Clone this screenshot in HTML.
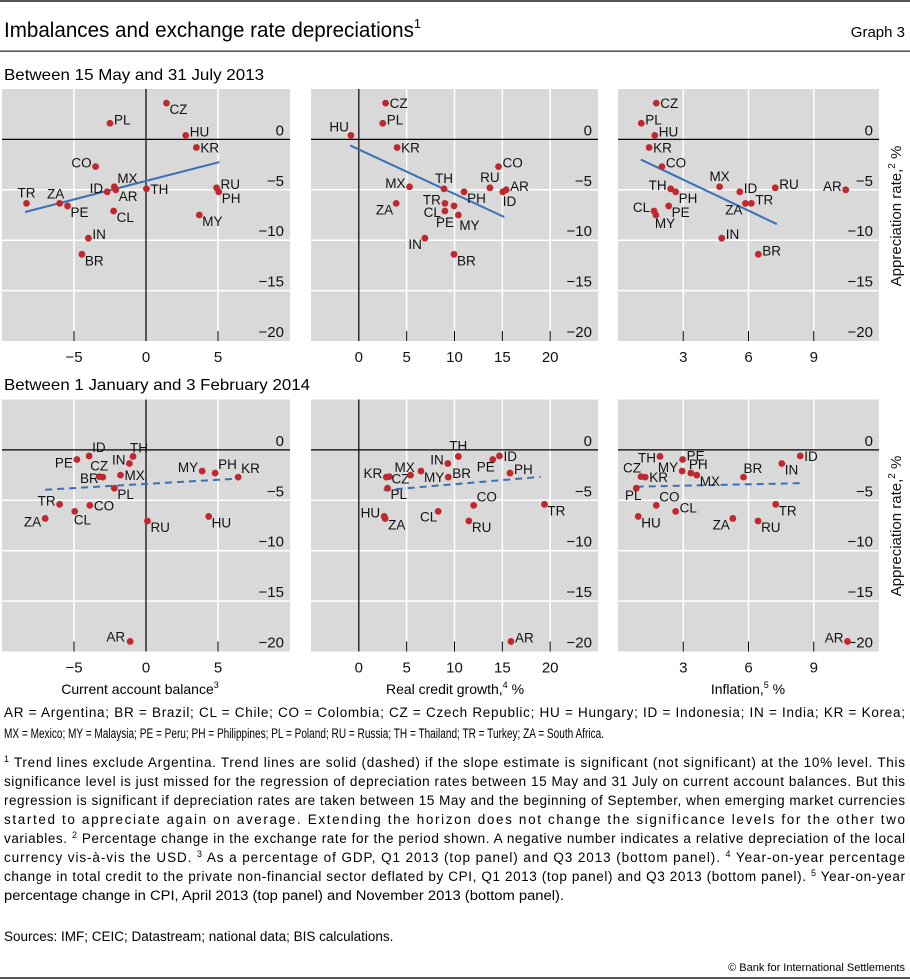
<!DOCTYPE html>
<html><head><meta charset="utf-8"><title>Imbalances and exchange rate depreciations</title>
<style>
html,body{margin:0;padding:0;background:#fff;}
svg{display:block;font-family:"Liberation Sans",Arial,sans-serif;}
</style></head>
<body>
<svg id="chart" width="910" height="980" viewBox="0 0 910 980" xmlns="http://www.w3.org/2000/svg">
<rect x="0" y="0" width="910" height="2" fill="#555"/>
<text x="4" y="37" font-size="21" textLength="417" lengthAdjust="spacingAndGlyphs">Imbalances and exchange rate depreciations<tspan font-size="13" dy="-9">1</tspan></text>
<text x="905" y="37" font-size="15" text-anchor="end">Graph 3</text>
<rect x="0" y="50.5" width="910" height="1.3" fill="#333"/>
<text x="4" y="80" font-size="16" textLength="260" lengthAdjust="spacingAndGlyphs">Between 15 May and 31 July 2013</text>
<text x="4" y="390" font-size="16" textLength="306" lengthAdjust="spacingAndGlyphs">Between 1 January and 3 February 2014</text>
<g id="plots"></g>
<text x="140" y="694" font-size="14" text-anchor="middle">Current account balance<tspan font-size="9" dy="-6">3</tspan></text>
<text x="455" y="694" font-size="14" text-anchor="middle">Real credit growth,<tspan font-size="9" dy="-6">4</tspan><tspan dy="6"> %</tspan></text>
<text x="748" y="694" font-size="14" text-anchor="middle">Inflation,<tspan font-size="9" dy="-6">5</tspan><tspan dy="6"> %</tspan></text>
<text x="4" y="717" font-size="13.5" textLength="901" lengthAdjust="spacing">AR = Argentina;  BR = Brazil;  CL = Chile;  CO = Colombia;  CZ = Czech Republic;  HU = Hungary;  ID = Indonesia;  IN = India;  KR = Korea;</text>
<text x="4" y="738" font-size="13.5" textLength="600" lengthAdjust="spacingAndGlyphs">MX = Mexico; MY = Malaysia; PE = Peru; PH = Philippines; PL = Poland; RU = Russia; TH = Thailand; TR = Turkey; ZA = South Africa.</text>
<g font-size="13.5">
<text x="4" y="767" textLength="901" lengthAdjust="spacing"><tspan font-size="9" dy="-5">1</tspan><tspan dy="5"> Trend lines exclude Argentina. Trend lines are solid (dashed) if the slope estimate is significant (not significant) at the 10% level. This</tspan></text>
<text x="4" y="786" textLength="901" lengthAdjust="spacing">significance level is just missed for the regression of depreciation rates between 15 May and 31 July on current account balances. But this</text>
<text x="4" y="805" textLength="901" lengthAdjust="spacing">regression is significant if depreciation rates are taken between 15 May and the beginning of September, when emerging market currencies</text>
<text x="4" y="824" textLength="901" lengthAdjust="spacing">started to appreciate again on average. Extending the horizon does not change the significance levels for the other two</text>
<text x="4" y="843" textLength="901" lengthAdjust="spacing">variables.  <tspan font-size="9" dy="-5">2</tspan><tspan dy="5"> Percentage change in the exchange rate for the period shown. A negative number indicates a relative depreciation of the local</tspan></text>
<text x="4" y="862" textLength="901" lengthAdjust="spacing">currency vis-à-vis the USD.  <tspan font-size="9" dy="-5">3</tspan><tspan dy="5"> As a percentage of GDP, Q1 2013 (top panel) and Q3 2013 (bottom panel).  </tspan><tspan font-size="9" dy="-5">4</tspan><tspan dy="5"> Year-on-year percentage</tspan></text>
<text x="4" y="881" textLength="901" lengthAdjust="spacing">change in total credit to the private non-financial sector deflated by CPI, Q1 2013 (top panel) and Q3 2013 (bottom panel).  <tspan font-size="9" dy="-5">5</tspan><tspan dy="5"> Year-on-year</tspan></text>
<text x="4" y="900" textLength="560" lengthAdjust="spacingAndGlyphs">percentage change in CPI, April 2013 (top panel) and November 2013 (bottom panel).</text>
<text x="4" y="941">Sources: IMF; CEIC; Datastream; national data; BIS calculations.</text>
<text x="905" y="971" font-size="11" text-anchor="end">© Bank for International Settlements</text>
</g>
<rect x="0" y="977" width="910" height="2" fill="#555"/>
</svg>
<script>
const countries = ["AR","BR","CL","CO","CZ","HU","ID","IN","KR","MX","MY","PE","PH","PL","RU","TH","TR","ZA"];
const topAppreciation = [-5.0,-11.4,-7.1,-2.7,3.6,0.4,-5.2,-9.8,-0.8,-4.7,-7.5,-6.6,-5.2,1.6,-4.8,-4.9,-6.35,-6.35];
const topCurrentAccount = [-2.1,-4.45,-2.25,-3.5,1.42,2.76,-2.7,-4.0,3.5,-2.2,3.7,-5.45,5.05,-2.5,4.9,0.03,-8.3,-6.0];
const topCreditGrowth = [15.4,9.95,9.0,14.6,2.8,-0.83,15.05,6.9,4.0,5.3,10.4,9.95,11.0,2.5,13.7,8.9,9.0,3.9];
const topInflation = [10.47,6.45,1.66,2.02,1.76,1.69,5.6,4.77,1.43,4.67,1.74,2.33,2.65,1.07,7.23,2.42,6.13,5.86];
const bottomAppreciation = [-19.0,-2.7,-6.1,-5.5,-2.65,-6.6,-0.6,-1.35,-2.7,-2.5,-2.1,-0.95,-2.3,-3.8,-7.05,-0.65,-5.4,-6.8];
const bottomCurrentAccount = [-1.1,-3.0,-4.95,-3.9,-3.25,4.35,-3.95,-1.15,6.4,-1.77,3.9,-4.8,4.8,-2.2,0.1,-0.9,-6.0,-7.0];
const bottomCreditGrowth = [15.9,9.35,8.3,12.0,3.2,2.65,14.7,9.3,2.87,5.4,6.5,14.0,15.8,3.0,11.5,10.4,19.4,2.75];
const bottomInflation = [10.55,5.77,2.65,1.76,1.06,0.93,8.38,7.53,1.25,3.62,2.95,2.97,3.35,0.84,6.44,1.93,7.25,5.28];
const trendTop1 = [[-8.4,-7.2],[5.1,-2.25]];
const trendTop2 = [[-0.9,-0.6],[15.2,-7.7]];
const trendTop3 = [[1.05,-2.0],[7.3,-8.4]];
const trendBottom1 = [[-7.0,-3.95],[6.4,-2.85]];
const trendBottom2 = [[2.6,-4.0],[19.0,-2.67]];
const trendBottom3 = [[0.86,-3.65],[8.39,-3.3]];
const yTicks = [0,-5,-10,-15,-20];
const xTicks1 = [-5,0,5];
const xTicks2 = [0,5,10,15,20];
const xTicks3 = [3,6,9];

const OFF = {r:[4,1,'start'],rm:[4,5,'start'],rb:[3,11,'start'],ra:[3,-4,'start'],l:[-4,1,'end'],lm:[-4,6,'end'],lb:[-3,11,'end'],la:[-2,-4,'end'],a:[0,-6,'middle'],b:[0,16,'middle']};
const LT1 = {CZ:'rb',PL:'r',HU:'r',KR:'rm',CO:'l',MX:'ra',ID:'l',AR:'rb',TH:'rm',TR:'a',ZA:[-4,-5,'middle'],PE:'rb',CL:'rb',RU:'r',PH:'rb',MY:'rb',IN:'r',BR:'rb'};
const LT2 = {HU:'la',CZ:'rm',PL:'r',KR:'rm',MX:'l',ZA:'lb',TH:'a',TR:'l',CL:'lm',PE:[0,21,'end'],MY:[1,15,'start'],IN:'lb',BR:'rb',PH:'rb',RU:'a',CO:'r',AR:'r',ID:[0,14,'start']};
const LT3 = {CZ:'rm',PL:'r',HU:'r',KR:'rm',CO:'r',TH:'l',PH:'rb',CL:'l',MY:[-1,13,'start'],PE:'rb',MX:'a',ID:'r',RU:'r',TR:'r',ZA:'lb',IN:'r',BR:'r',AR:'l'};
const LB1 = {ID:'ra',PE:[-4,8,'end'],TH:[-3,-4,'start'],IN:'l',CZ:'a',BR:'lm',MX:'rm',PL:'rb',MY:'l',PH:'ra',KR:'ra',TR:'l',CO:'rm',CL:[-1,13,'start'],ZA:[-4,8,'end'],RU:'rb',HU:'rb',AR:[-5,0,'end']};
const LB2 = {KR:'l',CZ:[2,7,'start'],PL:'rb',HU:'l',ZA:'rb',MX:[-16,-3,'start'],MY:'rb',CL:[-1,10,'end'],IN:'l',BR:'r',TH:'a',PE:[2,12,'end'],ID:'rm',PH:'r',CO:'ra',RU:'rb',TR:'rb',AR:'r'};
const LB3 = {TH:'lm',PE:'r',MY:'l',PH:[-2,-4,'start'],MX:'rb',CZ:[0,-4,'end'],KR:'rm',PL:[-3,12,'middle'],CO:'ra',CL:'r',HU:'rb',BR:[0,-4,'start'],IN:'rb',ID:'rm',ZA:'lb',RU:'rb',TR:'rb',AR:'l'};

const NS = "http://www.w3.org/2000/svg";
const root = document.getElementById('plots');
function mk(tag, attrs, parent){const e=document.createElementNS(NS,tag);for(const k in attrs)e.setAttribute(k,attrs[k]);(parent||root).appendChild(e);return e;}

const panels = [
 {id:'top-current-account',x0:2,x1:290,dom:[-10,10],top:89,bot:341,xs:topCurrentAccount,ys:topAppreciation,ticks:xTicks1,trend:trendTop1,dash:false,lab:LT1,zeroV:true},
 {id:'top-credit-growth',x0:311,x1:598,dom:[-5,25],top:89,bot:341,xs:topCreditGrowth,ys:topAppreciation,ticks:xTicks2,trend:trendTop2,dash:false,lab:LT2,zeroV:true},
 {id:'top-inflation',x0:618,x1:879,dom:[0,12],top:89,bot:341,xs:topInflation,ys:topAppreciation,ticks:xTicks3,trend:trendTop3,dash:false,lab:LT3,zeroV:false},
 {id:'bottom-current-account',x0:2,x1:290,dom:[-10,10],top:399.5,bot:651.5,xs:bottomCurrentAccount,ys:bottomAppreciation,ticks:xTicks1,trend:trendBottom1,dash:true,lab:LB1,zeroV:true},
 {id:'bottom-credit-growth',x0:311,x1:598,dom:[-5,25],top:399.5,bot:651.5,xs:bottomCreditGrowth,ys:bottomAppreciation,ticks:xTicks2,trend:trendBottom2,dash:true,lab:LB2,zeroV:true},
 {id:'bottom-inflation',x0:618,x1:879,dom:[0,12],top:399.5,bot:651.5,xs:bottomInflation,ys:bottomAppreciation,ticks:xTicks3,trend:trendBottom3,dash:true,lab:LB3,zeroV:false}
];

panels.forEach(p=>{
  const g = mk('g',{});
  
  
  const sx = v => p.x0 + (v - p.dom[0]) / (p.dom[1]-p.dom[0]) * (p.x1-p.x0);
  const sy = v => p.top + (5 - v) / 25 * (p.bot-p.top);
  const bg = mk('rect',{x:p.x0,y:p.top,width:p.x1-p.x0,height:p.bot-p.top,fill:'#d9d9d9'},g);
  
  
  yTicks.forEach(t=>{
    if(t!==0 && t!==-20){
      const gl = mk('line',{x1:p.x0,x2:p.x1,y1:sy(t),y2:sy(t),stroke:'#fff','stroke-width':1.5},g);
      
      
    }
    const tl = mk('text',{x:p.x1-6,y:sy(t)-4,'font-size':15,'text-anchor':'end',fill:'#111'},g);
    tl.textContent = t===0 ? '0' : '\u2212'+Math.abs(t);
    
    
  });
  p.ticks.forEach(t=>{
    if(!(t===0 && p.zeroV)){
      const gl = mk('line',{x1:sx(t),x2:sx(t),y1:p.top,y2:p.bot,stroke:'#fff','stroke-width':1.5},g);
      
      
      const tk = mk('line',{x1:sx(t),x2:sx(t),y1:p.bot-10,y2:p.bot,stroke:'#000','stroke-width':1},g);
      
      
    }
    const tl = mk('text',{x:sx(t),y:p.bot+21,'font-size':15,'text-anchor':'middle',fill:'#111'},g);
    tl.textContent = t<0 ? '\u2212'+Math.abs(t) : String(t);
    
    
  });
  const zh = mk('line',{x1:p.x0,x2:p.x1,y1:sy(0),y2:sy(0),stroke:'#000','stroke-width':1.2},g);
  
  
  if(p.zeroV){
    const zv = mk('line',{x1:sx(0),x2:sx(0),y1:p.top,y2:p.bot,stroke:'#000','stroke-width':1.2},g);
    
    
  }
  const tr = mk('line',{x1:sx(p.trend[0][0]),y1:sy(p.trend[0][1]),x2:sx(p.trend[1][0]),y2:sy(p.trend[1][1]),stroke:'#3b6fb6','stroke-width':2},g);
  if(p.dash) tr.setAttribute('stroke-dasharray','7 5');
  
  
  countries.forEach((c,i)=>{
    const px = sx(p.xs[i]), py = sy(p.ys[i]);
    const dot = mk('circle',{cx:px,cy:py,r:3.4,fill:'#c0282d'},g);
    
    
    let o = p.lab[c] || 'r';
    if(typeof o === 'string') o = OFF[o];
    const lt = mk('text',{x:px+o[0],y:py+o[1],'font-size':13.5,'text-anchor':o[2],fill:'#111'},g);
    lt.textContent = c;
    
    
  });
});
[216, 526].forEach((cy,k)=>{
  const t = mk('text',{x:0,y:0,'font-size':15,'text-anchor':'middle',transform:'translate(901,'+cy+') rotate(-90)',fill:'#111'});
  
  
  t.innerHTML = 'Appreciation rate,<tspan font-size="10" dy="-6">2</tspan><tspan dy="6"> %</tspan>';
});
</script>
</body></html>
